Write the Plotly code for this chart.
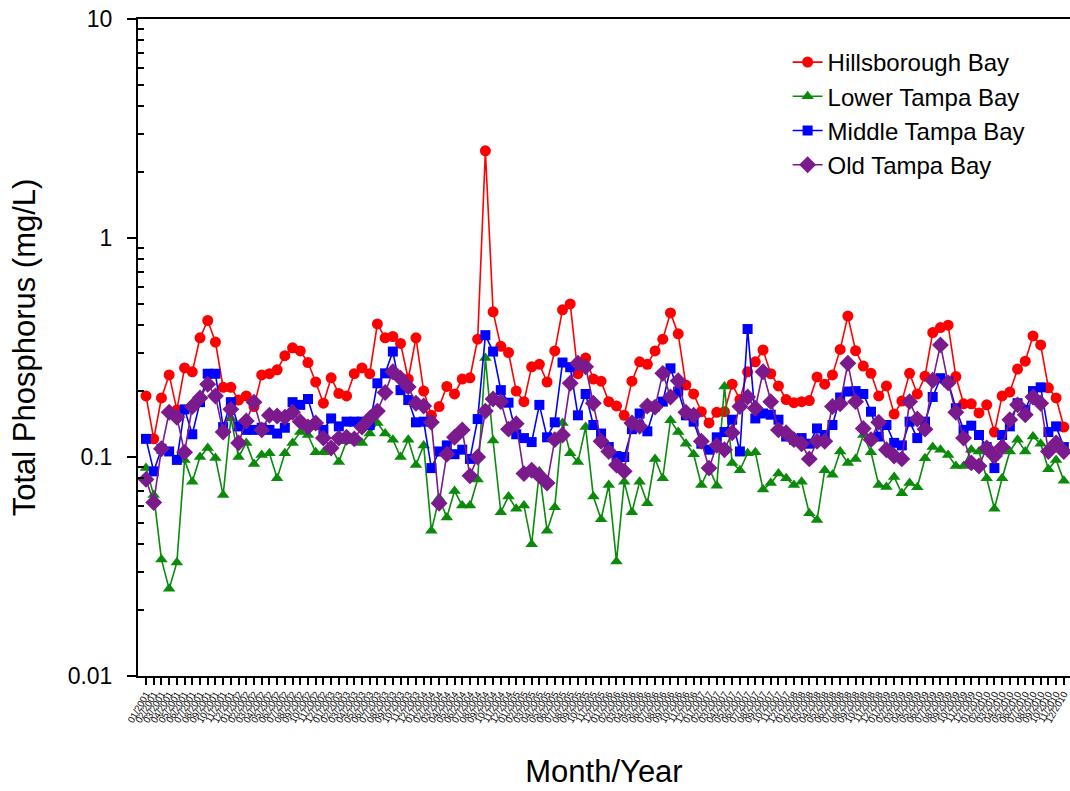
import plotly.graph_objects as go

# Monthly sampling periods, January 2001 through December 2010
years = [2001, 2002, 2003, 2004, 2005, 2006, 2007, 2008, 2009, 2010]
month_labels = [f"{m:02d}/{y}" for y in years for m in range(1, 13)]

# Monthly mean total phosphorus (mg/L) by bay segment
hillsborough = [
    0.19, 0.121, 0.186, 0.237, 0.164, 0.255, 0.245, 0.35, 0.42, 0.335,
    0.208, 0.208, 0.182, 0.19, 0.17, 0.237, 0.24, 0.25, 0.29, 0.315,
    0.305, 0.27, 0.22, 0.176, 0.23, 0.195, 0.19, 0.24, 0.255, 0.24,
    0.405, 0.35, 0.355, 0.33, 0.227, 0.35, 0.2, 0.155, 0.17, 0.21,
    0.194, 0.227, 0.23, 0.345, 2.5, 0.46, 0.32, 0.3, 0.2, 0.179,
    0.258, 0.265, 0.22, 0.305, 0.47, 0.5, 0.24, 0.283, 0.227, 0.222,
    0.179, 0.171, 0.155, 0.222, 0.272, 0.265, 0.305, 0.345, 0.455, 0.365,
    0.213, 0.194, 0.161, 0.143, 0.16, 0.161, 0.215, 0.183, 0.245, 0.272,
    0.308, 0.24, 0.211, 0.183, 0.177, 0.179, 0.181, 0.232, 0.215, 0.237,
    0.31, 0.44, 0.306, 0.26, 0.241, 0.19, 0.211, 0.157, 0.18, 0.241,
    0.194, 0.234, 0.37, 0.39, 0.4, 0.233, 0.175, 0.175, 0.159, 0.173,
    0.13, 0.19, 0.198, 0.252, 0.274, 0.357, 0.325, 0.207, 0.186, 0.137,
]
lower_tampa = [
    0.089, 0.067, 0.034, 0.025, 0.033, 0.097, 0.077, 0.1, 0.11, 0.099,
    0.067, 0.15, 0.1, 0.116, 0.093, 0.102, 0.104, 0.08, 0.104, 0.116,
    0.13, 0.126, 0.105, 0.105, 0.111, 0.095, 0.118, 0.12, 0.116, 0.128,
    0.143, 0.128, 0.12, 0.1, 0.12, 0.092, 0.113, 0.046, 0.065, 0.053,
    0.07, 0.06, 0.06, 0.079, 0.283, 0.119, 0.056, 0.066, 0.058, 0.06,
    0.04, 0.086, 0.046, 0.059, 0.143, 0.104, 0.095, 0.137, 0.066, 0.052,
    0.0745, 0.0333, 0.077, 0.056, 0.077, 0.0615, 0.098, 0.08, 0.147, 0.13,
    0.115, 0.103, 0.0745, 0.089, 0.074, 0.21, 0.094, 0.087, 0.104, 0.105,
    0.071, 0.076, 0.084, 0.08, 0.0745, 0.077, 0.0553, 0.0515, 0.087, 0.083,
    0.106, 0.094, 0.098, 0.126, 0.105, 0.0745, 0.073, 0.081, 0.0683, 0.076,
    0.0727, 0.0986, 0.111, 0.108, 0.102, 0.091, 0.091, 0.108, 0.106, 0.08,
    0.058, 0.08, 0.106, 0.12, 0.106, 0.124, 0.115, 0.088, 0.097, 0.078,
]
middle_tampa = [
    0.121, 0.086, 0.109, 0.106, 0.097, 0.165, 0.127, 0.178, 0.24, 0.24,
    0.137, 0.178, 0.138, 0.133, 0.133, 0.136, 0.133, 0.128, 0.136, 0.178,
    0.173, 0.184, 0.14, 0.133, 0.15, 0.138, 0.145, 0.145, 0.145, 0.14,
    0.217, 0.241, 0.303, 0.202, 0.182, 0.144, 0.145, 0.089, 0.106, 0.113,
    0.103, 0.108, 0.098, 0.149, 0.36, 0.303, 0.202, 0.177, 0.127, 0.122,
    0.117, 0.173, 0.123, 0.144, 0.27, 0.257, 0.155, 0.194, 0.14, 0.128,
    0.111, 0.101, 0.1, 0.134, 0.158, 0.131, 0.17, 0.179, 0.254, 0.199,
    0.155, 0.145, 0.115, 0.108, 0.123, 0.13, 0.148, 0.106, 0.384, 0.15,
    0.158, 0.156, 0.148, 0.124, 0.12, 0.122, 0.115, 0.135, 0.126, 0.14,
    0.187, 0.199, 0.2, 0.194, 0.161, 0.124, 0.14, 0.116, 0.113, 0.145,
    0.122, 0.145, 0.188, 0.229, 0.221, 0.167, 0.133, 0.139, 0.126, 0.111,
    0.089, 0.126, 0.138, 0.176, 0.164, 0.2, 0.208, 0.13, 0.138, 0.111,
]
old_tampa = [
    0.079, 0.062, 0.109, 0.16, 0.152, 0.105, 0.17, 0.186, 0.215, 0.19,
    0.13, 0.165, 0.116, 0.146, 0.178, 0.133, 0.155, 0.154, 0.152, 0.16,
    0.145, 0.137, 0.143, 0.122, 0.11, 0.122, 0.123, 0.121, 0.137, 0.15,
    0.162, 0.197, 0.245, 0.229, 0.209, 0.176, 0.171, 0.144, 0.0615, 0.103,
    0.123, 0.133, 0.082, 0.1, 0.162, 0.184, 0.179, 0.134, 0.142, 0.084,
    0.087, 0.082, 0.076, 0.12, 0.126, 0.217, 0.268, 0.258, 0.176, 0.118,
    0.106, 0.092, 0.086, 0.143, 0.138, 0.171, 0.169, 0.241, 0.188, 0.223,
    0.16, 0.155, 0.118, 0.089, 0.113, 0.108, 0.129, 0.17, 0.188, 0.167,
    0.245, 0.179, 0.133, 0.129, 0.12, 0.115, 0.098, 0.118, 0.118, 0.17,
    0.175, 0.268, 0.179, 0.135, 0.12, 0.144, 0.108, 0.101, 0.098, 0.179,
    0.149, 0.134, 0.224, 0.325, 0.218, 0.16, 0.122, 0.094, 0.091, 0.11,
    0.101, 0.111, 0.148, 0.173, 0.156, 0.188, 0.176, 0.106, 0.116, 0.106,
]

y_major = [0.01, 0.1, 1, 10]
y_major_text = ["0.01", "0.1", "1", "10"]
y_minor = [m * d for d in (0.01, 0.1, 1) for m in range(2, 10)]

FONT = "Liberation Sans, Arial, Helvetica, sans-serif"
x_idx = list(range(len(month_labels)))

series = [
    ("Hillsborough Bay", hillsborough, "#ff0000", "circle", 11),
    ("Lower Tampa Bay", lower_tampa, "#0b8a0b", "triangle-up", 11),
    ("Middle Tampa Bay", middle_tampa, "#0000ff", "square", 10),
    ("Old Tampa Bay", old_tampa, "#7a1a8c", "diamond", 13),
]

fig = go.Figure()
for name, vals, color, symbol, size in series:
    fig.add_trace(go.Scatter(
        x=x_idx, y=vals, name=name, mode="lines+markers",
        line=dict(color=color, width=1.6),
        marker=dict(color=color, symbol=symbol, size=size, line=dict(width=0)),
    ))

fig.update_layout(
    width=1070, height=791,
    margin=dict(l=138, r=0, t=19, b=115),
    paper_bgcolor="white", plot_bgcolor="white",
    font=dict(family=FONT, color="black"),
    showlegend=True,
    legend=dict(
        x=0.697, y=0.968, xanchor="left", yanchor="top",
        font=dict(size=24, family=FONT, color="black"),
        bgcolor="rgba(0,0,0,0)", borderwidth=0, tracegroupgap=0,
    ),
)

fig.update_xaxes(
    range=[-1.04, 119.8],
    tickmode="array", tickvals=x_idx, ticktext=month_labels,
    tickangle=-60, tickfont=dict(size=9.5, family=FONT, color="black"),
    ticks="outside", ticklen=7, tickwidth=1.5, tickcolor="black",
    showline=True, linecolor="black", linewidth=2, mirror=True,
    showgrid=False, zeroline=False,
    title=dict(text="Month/Year", font=dict(size=31, family=FONT, color="black"), standoff=37),
)

fig.update_yaxes(
    type="log", range=[-2, 1],
    tickmode="array", tickvals=y_major, ticktext=y_major_text,
    tickfont=dict(size=23, family=FONT, color="black"),
    ticklabelstandoff=10,
    ticks="outside", ticklen=9, tickwidth=1.5, tickcolor="black",
    minor=dict(tickmode="array", tickvals=y_minor, ticks="inside", ticklen=6,
               tickwidth=1.5, tickcolor="black", showgrid=False),
    showline=True, linecolor="black", linewidth=2, mirror=False,
    showgrid=False, zeroline=False,
    title=dict(text="Total Phosphorus (mg/L)", font=dict(size=31, family=FONT, color="black"), standoff=23),
)

fig.write_html("out.html")
